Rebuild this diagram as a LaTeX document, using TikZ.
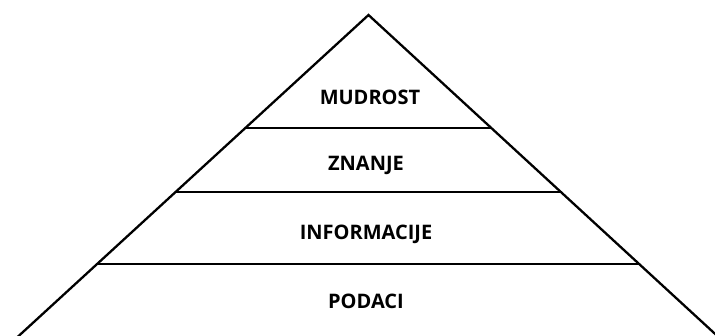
\documentclass[tikz,border=0pt]{standalone}
\usepackage{fontspec}
\setmainfont{Open Sans}
\usetikzlibrary{calc}
\begin{document}
\begin{tikzpicture}[x=1pt,y=-1pt,
  edge/.style={line width=2.3pt,black},
  layer/.style={line width=2.5pt,black},
  lbl/.style={font=\fontsize{20}{24}\selectfont\bfseries,inner sep=0pt,anchor=base}]
\useasboundingbox (0,0) rectangle (715,336);
\coordinate (A) at (368.5,15);
\coordinate (L) at (17,337.5);
\coordinate (R) at (719,337.5);
\draw[edge,line join=miter] (L) -- (A) -- (R);
\coordinate (l1) at ($(A)!0.350!(L)$);
\coordinate (r1) at ($(A)!0.350!(R)$);
\coordinate (l2) at ($(A)!0.549!(L)$);
\coordinate (r2) at ($(A)!0.549!(R)$);
\coordinate (l3) at ($(A)!0.772!(L)$);
\coordinate (r3) at ($(A)!0.772!(R)$);
\draw[layer] (l1) -- (r1);
\draw[layer] (l2) -- (r2);
\draw[layer] (l3) -- (r3);
\node[lbl] (mud) at (370,104.5) {MUDROST};
\node[lbl] (zna) at (366,170.5) {ZNANJE};
\node[lbl] (inf) at (366,239.5) {INFORMACIJE};
\node[lbl] (pod) at (366,308.5) {PODACI};
\end{tikzpicture}
\end{document}
